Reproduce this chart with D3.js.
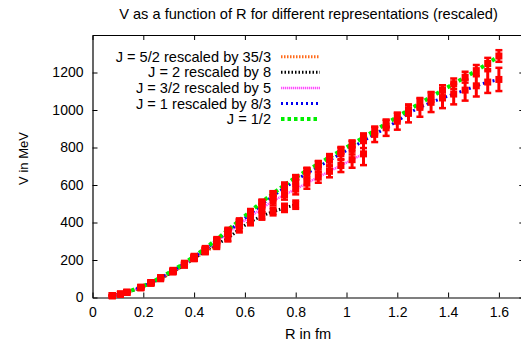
<!DOCTYPE html>
<html>
<head>
<meta charset="utf-8">
<script src="https://cdn.jsdelivr.net/npm/d3@7"></script>
<style>
  html, body { margin: 0; padding: 0; background: #fff; }
  svg { display: block; }
  text { font-family: "Liberation Sans", Arial, sans-serif; fill: #000; }
</style>
</head>
<body>
<svg id="chart" width="521" height="341"></svg>
<script>
// Separations R (fm)
const radii = [0.078, 0.110, 0.135, 0.190, 0.230, 0.268, 0.317, 0.362, 0.400, 0.444,
               0.489, 0.533, 0.578, 0.622, 0.667, 0.711, 0.756, 0.800, 0.844, 0.889,
               0.933, 0.978, 1.022, 1.067, 1.111, 1.156, 1.200, 1.244, 1.289, 1.333,
               1.378, 1.422, 1.467, 1.511, 1.556, 1.600];

// Rescaled potentials V (MeV) and their errors, one pair per representation
const vHalf = [10, 18, 28, 55, 80, 106, 145, 183, 220, 262, 310, 360, 410, 460, 510, 555, 600, 640,
               677, 712, 748, 783, 818, 853, 890, 927, 963, 1000, 1035, 1070, 1105, 1140, 1175, 1210, 1248, 1288];
const eHalf = [2, 2, 2, 3, 3, 3, 4, 4, 5, 5, 6, 7, 8, 9, 10, 11, 12, 13,
               14, 15, 16, 17, 18, 19, 20, 21, 22, 24, 25, 26, 27, 28, 29, 30, 30, 31];

const vOne = [10, 18, 28, 54, 79, 105, 143, 181, 217, 258, 304, 352, 400, 447, 497, 542, 585, 625,
              662, 697, 732, 768, 800, 836, 870, 905, 940, 982, 1014, 1041, 1064, 1085, 1106, 1129, 1149, 1163];
const eOne = [2, 2, 2, 3, 4, 5, 6, 8, 9, 11, 13, 15, 17, 19, 21, 23, 25, 27,
              29, 31, 33, 35, 37, 39, 41, 43, 45, 48, 50, 52, 54, 55, 56, 57, 58, 62];

const vThreeHalves = [10, 18, 27, 53, 78, 103, 140, 177, 212, 252, 297, 345, 390, 432, 476, 515, 548, 578,
                      610, 642, 673, 704, 735, 766];
const eThreeHalves = [2, 2, 3, 3, 4, 5, 6, 8, 10, 12, 14, 16, 18, 20, 22, 24, 26, 28,
                      30, 30, 32, 35, 43, 60];

const vTwo = [10, 17, 27, 52, 77, 101, 138, 174, 208, 250, 285, 315, 365, 405, 435, 458, 478, 495];
const eTwo = [2, 2, 3, 3, 4, 5, 6, 8, 10, 12, 14, 16, 18, 20, 20, 20, 22, 22];

const vFiveHalves = [10, 17, 27, 52, 76, 100, 136, 172, 207, 245, 275];
const eFiveHalves = [2, 2, 3, 4, 5, 6, 8, 10, 12, 14, 16];

const legendLabels = ["J = 5/2 rescaled by 35/3", "J = 2 rescaled by 8", "J = 3/2 rescaled by 5",
                      "J = 1 rescaled by 8/3", "J = 1/2"];
const xTicks = [0, 0.2, 0.4, 0.6, 0.8, 1.0, 1.2, 1.4, 1.6];
const yTicks = [0, 200, 400, 600, 800, 1000, 1200];

const series = [
  { label: legendLabels[0], v: vFiveHalves,  e: eFiveHalves,  color: "#ff6a1a", width: 3,   dash: "1.5 1.5" },
  { label: legendLabels[1], v: vTwo,         e: eTwo,         color: "#000000", width: 3,   dash: "1.5 2" },
  { label: legendLabels[2], v: vThreeHalves, e: eThreeHalves, color: "#ff4dff", width: 2.5, dash: "1.3 0.7" },
  { label: legendLabels[3], v: vOne,         e: eOne,         color: "#0000f0", width: 3,   dash: "2 3" },
  { label: legendLabels[4], v: vHalf,        e: eHalf,        color: "#00ee00", width: 4,   dash: "3.5 3" }
];

const svg = d3.select("#chart");
const plotL = 92.5, plotR = 524.3, plotT = 35, plotB = 297.5;
const x = d3.scaleLinear().domain([0, 1.7]).range([plotL, plotR]);
const y = d3.scaleLinear().domain([0, 1400]).range([plotB, plotT]);

// Title and axis labels
svg.append("text").attr("x", 308.5).attr("y", 19).attr("text-anchor", "middle").attr("font-size", 14.6)
  .text("V as a function of R for different representations (rescaled)");
svg.append("text").attr("x", 308).attr("y", 338.5).attr("text-anchor", "middle").attr("font-size", 14.6)
  .text("R in fm");
svg.append("text").attr("transform", "translate(27.5,158.5) rotate(-90)").attr("text-anchor", "middle")
  .attr("font-size", 13).text("V in MeV");

// Axes with inward ticks, mirrored on the opposite sides
const fmtX = d => d3.format("~g")(+d.toFixed(1));
const fmtY = d3.format("d");
const tickLen = 5;
const gx = svg.append("g").attr("transform", `translate(0,${plotB})`)
  .call(d3.axisBottom(x).tickValues(xTicks).tickFormat(fmtX).tickSizeInner(-tickLen).tickSizeOuter(0).tickPadding(10));
const gxTop = svg.append("g").attr("transform", `translate(0,${plotT})`)
  .call(d3.axisTop(x).tickValues(xTicks).tickFormat("").tickSizeInner(-tickLen).tickSizeOuter(0));
const gy = svg.append("g").attr("transform", `translate(${plotL},0)`)
  .call(d3.axisLeft(y).tickValues(yTicks).tickFormat(fmtY).tickSizeInner(-tickLen).tickSizeOuter(0).tickPadding(9));
const gyRight = svg.append("g").attr("transform", `translate(${plotR},0)`)
  .call(d3.axisRight(y).tickValues(yTicks).tickFormat("").tickSizeInner(-tickLen).tickSizeOuter(0));
[gx, gxTop, gy, gyRight].forEach(g => {
  g.selectAll("path.domain").attr("stroke", "#000").attr("stroke-width", 1.2);
  g.selectAll(".tick line").attr("stroke", "#000").attr("stroke-width", 1);
  g.selectAll(".tick text").attr("font-size", 14).attr("font-family", "Liberation Sans, Arial, sans-serif").attr("fill", "#000");
});

// Dotted curves, one per representation
const line = d3.line().x((d, i) => x(radii[i])).y(d => y(d));
series.forEach(s => {
  svg.append("path").datum(s.v)
    .attr("d", line).attr("fill", "none")
    .attr("stroke", s.color).attr("stroke-width", s.width).attr("stroke-dasharray", s.dash);
});

// Red data points with error bars
const pts = [];
series.forEach(s => s.v.forEach((v, i) => pts.push({ r: radii[i], v, e: s.e[i] })));
const gp = svg.append("g").attr("fill", "#ff0000").attr("stroke", "#ff0000");
const half = 3.5, capW = 3.5;
pts.forEach(p => {
  const cx = x(p.r), y1 = y(p.v + p.e), y2 = y(p.v - p.e), cy = y(p.v);
  gp.append("line").attr("x1", cx).attr("x2", cx).attr("y1", y1).attr("y2", y2).attr("stroke-width", 3);
  gp.append("line").attr("x1", cx - capW).attr("x2", cx + capW).attr("y1", y1).attr("y2", y1).attr("stroke-width", 2.5);
  gp.append("line").attr("x1", cx - capW).attr("x2", cx + capW).attr("y1", y2).attr("y2", y2).attr("stroke-width", 2.5);
  gp.append("rect").attr("x", cx - half).attr("y", cy - half).attr("width", 2 * half).attr("height", 2 * half)
    .attr("stroke", "none");
});

// Legend
const legY0 = 56.7, legDy = 15.6;
series.forEach((s, i) => {
  const ly = legY0 + i * legDy;
  svg.append("text").attr("x", 271).attr("y", ly + 5).attr("text-anchor", "end").attr("font-size", 14.6).text(s.label);
  svg.append("line").attr("x1", 281).attr("x2", 320).attr("y1", ly).attr("y2", ly)
    .attr("stroke", s.color).attr("stroke-width", s.width).attr("stroke-dasharray", s.dash);
});
</script>
</body>
</html>
